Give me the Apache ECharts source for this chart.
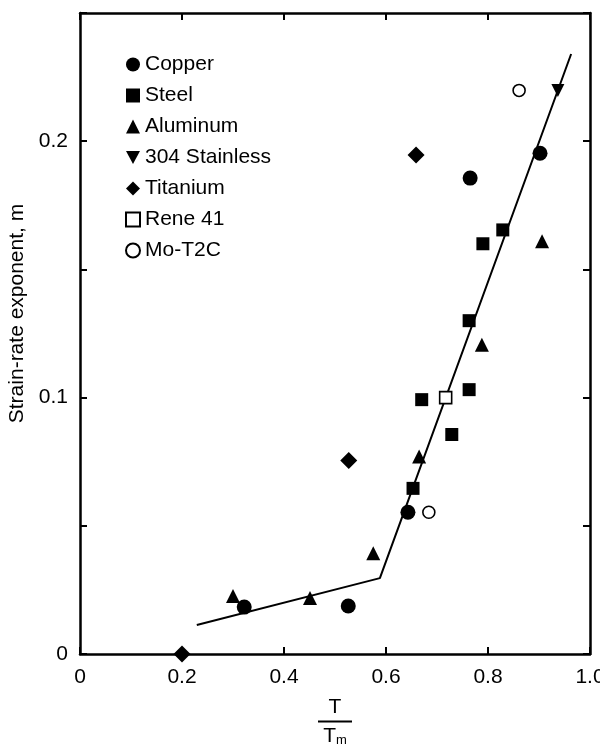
<!DOCTYPE html>
<html>
<head>
<meta charset="utf-8">
<script src="https://cdn.jsdelivr.net/npm/echarts@6/dist/echarts.min.js"></script>
<style>
	html, body { margin: 0; padding: 0; background: #fff; }
	#chart { width: 600px; height: 745px; }
</style>
</head>
<body>
<div id="chart"></div>
<script>
// values, [T/Tm, m]
var copper = [[0.322, 0.0183], [0.526, 0.0187], [0.643, 0.0553], [0.765, 0.1856], [0.902, 0.1953]];
var steel = [[0.653, 0.0646], [0.670, 0.0992], [0.729, 0.0856], [0.763, 0.1031], [0.763, 0.130], [0.790, 0.160], [0.829, 0.1654]];
var aluminum = [[0.300, 0.0226], [0.451, 0.0218], [0.575, 0.0393], [0.665, 0.077], [0.788, 0.1206], [0.906, 0.161]];
var stainless = [[0.937, 0.2198]];
var titanium = [[0.200, 0.0], [0.527, 0.0755], [0.659, 0.1946]];
var rene = [[0.717, 0.100]];
var moT2C = [[0.684, 0.0553], [0.861, 0.2198]];
var fitLine = [[0.229, 0.0113], [0.588, 0.0296], [0.963, 0.234]];

var names = ["Copper", "Steel", "Aluminum", "304 Stainless", "Titanium", "Rene 41", "Mo-T2C"];
var xLabels = ["0", "0.2", "0.4", "0.6", "0.8", "1.0"];
var yLabels = { "0": "0", "0.1": "0.1", "0.2": "0.2" };

var font = "Liberation Sans";
var black = "#000";

var Chart = function() {
	var chart = null;

	var axisBase = function(pos) {
		return {
			position: pos,
			axisLine: { show: true, onZero: false, lineStyle: { color: black, width: 2.5 } },
			axisTick: { show: true, inside: true, length: 7, lineStyle: { color: black, width: 2 } },
			splitLine: { show: false },
			axisLabel: { show: false }
		};
	};

	var pts = function(name, data, symbol, size, filled) {
		return {
			name: name,
			type: "scatter",
			data: data,
			symbol: symbol,
			symbolSize: size,
			clip: false,
			z: 3,
			itemStyle: filled ? { color: black, opacity: 1 } : { color: "#fff", borderColor: black, borderWidth: 1.6, opacity: 1 }
		};
	};

	var buildOption = function() {
		var xBottom = axisBase("bottom");
		xBottom.type = "value";
		xBottom.min = 0;
		xBottom.max = 1;
		xBottom.interval = 0.2;
		xBottom.axisLabel = {
			show: true, margin: 13, color: black, fontFamily: font, fontSize: 21,
			formatter: function(v) { return xLabels[Math.round(v * 5)]; }
		};
		// T over T_m
		xBottom.name = "{n|T}\n{bar| }\n{d|T}{s|m}";
		xBottom.nameLocation = "middle";
		xBottom.nameGap = 43;
		xBottom.nameTextStyle = {
			color: black, fontFamily: font, align: "center",
			rich: {
				n: { fontSize: 21, lineHeight: 21, align: "center", fontFamily: font },
				bar: { width: 34, height: 2, lineHeight: 7, backgroundColor: black, fontSize: 2 },
				d: { fontSize: 21, lineHeight: 22, fontFamily: font },
				s: { fontSize: 13, lineHeight: 22, verticalAlign: "bottom", fontFamily: font }
			}
		};

		var xTop = axisBase("top");
		xTop.type = "value";
		xTop.min = 0;
		xTop.max = 1;
		xTop.interval = 0.2;

		var yLeft = axisBase("left");
		yLeft.type = "value";
		yLeft.min = 0;
		yLeft.max = 0.25;
		yLeft.interval = 0.05;
		yLeft.axisLabel = {
			show: true, margin: 12, color: black, fontFamily: font, fontSize: 21,
			formatter: function(v) {
				var k = String(Math.round(v * 100) / 100);
				return yLabels[k] || "";
			}
		};
		yLeft.name = "Strain-rate exponent, m";
		yLeft.nameLocation = "middle";
		yLeft.nameGap = 50;
		yLeft.nameTextStyle = { color: black, fontFamily: font, fontSize: 21, padding: [0, 0, 0, 40] };

		var yRight = axisBase("right");
		yRight.type = "value";
		yRight.min = 0;
		yRight.max = 0.25;
		yRight.interval = 0.05;

		return {
			animation: false,
			backgroundColor: "#fff",
			grid: { left: 80, top: 13, right: 10, bottom: 91, containLabel: false, outerBoundsMode: "none" },
			legend: {
				data: names,
				orient: "vertical",
				left: 120,
				top: 49,
				itemWidth: 14,
				itemHeight: 14,
				itemGap: 10,
				itemTextGap: 8,
				textStyle: { color: black, fontFamily: font, fontSize: 21 }
			},
			xAxis: [xBottom, xTop],
			yAxis: [yLeft, yRight],
			series: [
				pts("Copper", copper, "circle", 15, true),
				pts("Steel", steel, "rect", 13, true),
				pts("Aluminum", aluminum, "triangle", 14, true),
				pts("304 Stainless", stainless, "path://M0,0 L12,0 L6,11 Z", 13, true),
				pts("Titanium", titanium, "diamond", 17, true),
				pts("Rene 41", rene, "rect", 12, false),
				pts("Mo-T2C", moT2C, "circle", 12, false),
				{
					name: "fit",
					type: "line",
					data: fitLine,
					symbol: "none",
					z: 2,
					lineStyle: { color: black, width: 2 }
				}
			]
		};
	};

	return {
		init: function() {
			chart = echarts.init(document.getElementById("chart"), null, { renderer: "canvas" });
			chart.setOption(buildOption());
		}
	};
}();

Chart.init();
</script>
</body>
</html>
